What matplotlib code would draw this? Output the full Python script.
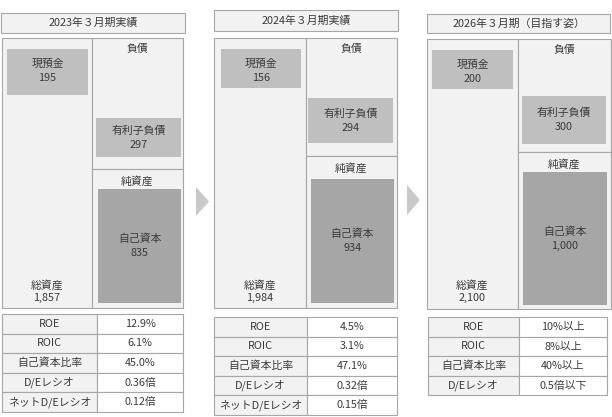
import matplotlib
matplotlib.use("Agg")
import matplotlib.pyplot as plt
from matplotlib.patches import Rectangle, Polygon

plt.rcParams['font.family'] = ['Noto Sans CJK JP', 'DejaVu Sans']

# data
periods = ["2023年３月期実績", "2024年３月期実績", "2026年３月期（目指す姿）"]
cash = [195, 156, 200]
debt = [297, 294, 300]
equity = [835, 934, 1000]
total_assets = [1857, 1984, 2100]

metric_labels = ["ROE", "ROIC", "自己資本比率", "D/Eレシオ", "ネットD/Eレシオ"]
metrics_2023 = ["12.9%", "6.1%", "45.0%", "0.36倍", "0.12倍"]
metrics_2024 = ["4.5%", "3.1%", "47.1%", "0.32倍", "0.15倍"]
metrics_2026 = ["10%以上", "8%以上", "40%以上", "0.5倍以下"]
metrics = [metrics_2023, metrics_2024, metrics_2026]

# layout in pixels (schematic boxes, not to scale)
layout = [
    dict(title=(1, 13, 185, 33), main=(2, 38, 183, 308), split=92, div=169,
         cash=(7, 49, 88, 95), debt=(96, 118, 181, 157), eq=(98, 189, 181, 303),
         table=(2, 314, 183), col=97),
    dict(title=(214, 10, 398, 31), main=(214, 38, 397, 308), split=306, div=156,
         cash=(221, 49, 301, 88), debt=(308, 98, 393, 143), eq=(311, 179, 394, 303),
         table=(214, 317, 397), col=307),
    dict(title=(427, 14, 610, 33), main=(427, 39, 611, 309), split=518, div=152,
         cash=(432, 50, 513, 89), debt=(522, 96, 606, 144), eq=(523, 172, 607, 305),
         table=(428, 317, 607), col=519),
]
arrows = [(196, 187, 209, 216), (407, 185, 420, 215)]
row_h = 19.6

edge = "#a6a6a6"
bg = "#f2f2f2"
light = "#bfbfbf"
dark = "#a6a6a6"
fs = 7.8

fig = plt.figure(figsize=(6.12, 4.17), dpi=100)
ax = fig.add_axes([0, 0, 1, 1])
ax.set_xlim(0, 612)
ax.set_ylim(417, 0)
ax.axis("off")


def box(x0, y0, x1, y1, fc, ec=edge, lw=0.8):
    ax.add_patch(Rectangle((x0, y0), x1 - x0, y1 - y0, facecolor=fc,
                           edgecolor=ec, linewidth=lw))


def txt(x, y, s):
    ax.text(x, y, s, ha="center", va="center", fontsize=fs, color="#3a3a3a")


for i, L in enumerate(layout):
    # title
    box(*L["title"], fc=bg)
    tx0, ty0, tx1, ty1 = L["title"]
    txt((tx0 + tx1) / 2, (ty0 + ty1) / 2, periods[i])

    # balance sheet
    mx0, my0, mx1, my1 = L["main"]
    sp, dv = L["split"], L["div"]
    box(mx0, my0, sp, my1, fc=bg)
    box(sp, my0, mx1, dv, fc=bg)
    box(sp, dv, mx1, my1, fc=bg)

    cx0, cy0, cx1, cy1 = L["cash"]
    box(cx0, cy0, cx1, cy1, fc=light, ec="none")
    txt((cx0 + cx1) / 2, cy0 + 15, "現預金")
    txt((cx0 + cx1) / 2, cy0 + 29, f"{cash[i]:,}")

    dx0, dy0, dx1, dy1 = L["debt"]
    box(dx0, dy0, dx1, dy1, fc=light, ec="none")
    dm = (dy0 + dy1) / 2
    txt((dx0 + dx1) / 2, dm - 7, "有利子負債")
    txt((dx0 + dx1) / 2, dm + 7, f"{debt[i]:,}")

    ex0, ey0, ex1, ey1 = L["eq"]
    box(ex0, ey0, ex1, ey1, fc=dark, ec="none")
    em = (ey0 + ey1) / 2
    txt((ex0 + ex1) / 2, em - 7, "自己資本")
    txt((ex0 + ex1) / 2, em + 7, f"{equity[i]:,}")

    txt((sp + mx1) / 2, my0 + 11, "負債")
    txt((sp + mx1) / 2, dv + 12, "純資産")
    txt((mx0 + sp) / 2, 285, "総資産")
    txt((mx0 + sp) / 2, 298, f"{total_assets[i]:,}")

    # metrics table
    tx0, ty, tx1 = L["table"]
    col = L["col"]
    for r, val in enumerate(metrics[i]):
        y0 = ty + r * row_h
        box(tx0, y0, col, y0 + row_h, fc=bg)
        box(col, y0, tx1, y0 + row_h, fc="white")
        txt((tx0 + col) / 2, y0 + row_h / 2, metric_labels[r])
        txt((col + tx1) / 2, y0 + row_h / 2, val)

for ax0, ay0, ax1, ay1 in arrows:
    ax.add_patch(Polygon([(ax0, ay0), (ax1, (ay0 + ay1) / 2), (ax0, ay1)],
                         closed=True, facecolor="#c9c9c9", edgecolor="none"))

fig.savefig("out.png", dpi=100)
